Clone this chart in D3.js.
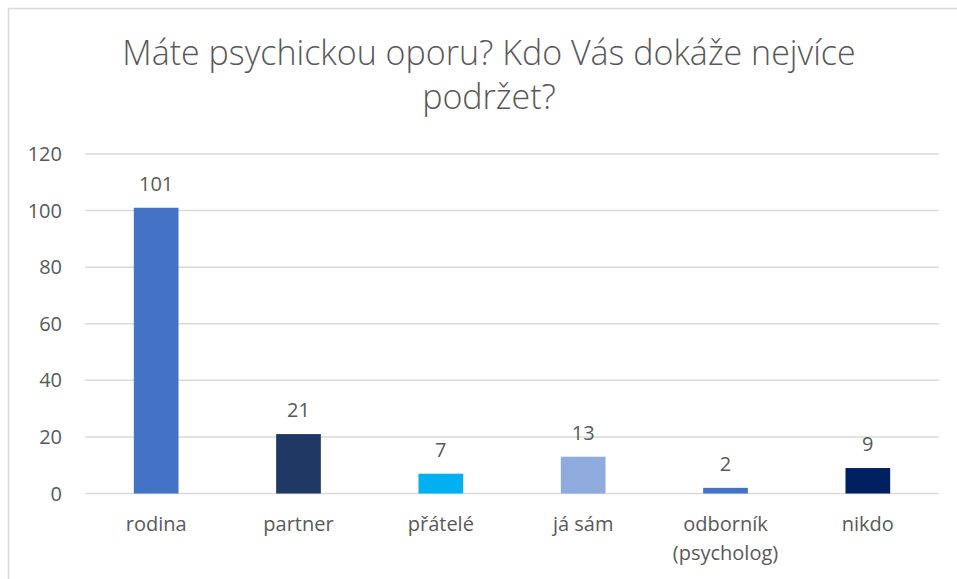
<!DOCTYPE html>
<html>
<head>
<meta charset="utf-8">
<script src="https://cdn.jsdelivr.net/npm/d3@7"></script>
<style>
  body { margin: 0; background: #fff; }
  text { font-family: "Open Sans", Lato, sans-serif; fill: #595959; }
</style>
</head>
<body>
<script>
'use strict';

var width = 957, height = 579;

var categories = ["rodina", "partner", "přátelé", "já sám", "odborník (psycholog)", "nikdo"];
var values = [101, 21, 7, 13, 2, 9];
var colors = ["#4472C4", "#203864", "#00B0F0", "#8FAADC", "#4472C4", "#002060"];
var yTicks = [0, 20, 40, 60, 80, 100, 120];
var titleLines = ["Máte psychickou oporu? Kdo Vás dokáže nejvíce", "podržet?"];

var svg = d3.select("body").append("svg")
  .attr("width", width)
  .attr("height", height);

// chart frame (runs off the right and bottom edge)
svg.append("rect")
  .attr("x", 8.5).attr("y", 8.5)
  .attr("width", 1200).attr("height", 1200)
  .attr("fill", "none")
  .attr("stroke", "#d9d9d9")
  .attr("stroke-width", 1.5);

var x = d3.scaleBand()
  .domain(categories)
  .range([85, 939])
  .paddingInner(0.686)
  .paddingOuter(0.343);

var y = d3.scaleLinear()
  .domain([0, 120])
  .range([493.5, 154]);

// gridlines
svg.append("g").selectAll("line")
  .data(yTicks)
  .enter().append("line")
  .attr("x1", 85).attr("x2", 939)
  .attr("y1", function(d) { return y(d); })
  .attr("y2", function(d) { return y(d); })
  .attr("stroke", "#d9d9d9")
  .attr("stroke-width", 1.5);

// y tick labels
svg.append("g").selectAll("text")
  .data(yTicks)
  .enter().append("text")
  .attr("x", 62)
  .attr("y", function(d) { return y(d); })
  .attr("dy", "0.35em")
  .attr("text-anchor", "end")
  .style("font-size", "20px")
  .text(function(d) { return d; });

// bars
svg.append("g").selectAll("rect")
  .data(values)
  .enter().append("rect")
  .attr("x", function(d, i) { return x(categories[i]); })
  .attr("width", x.bandwidth())
  .attr("y", function(d) { return y(d); })
  .attr("height", function(d) { return y(0) - y(d); })
  .attr("fill", function(d, i) { return colors[i]; });

// data labels
svg.append("g").selectAll("text")
  .data(values)
  .enter().append("text")
  .attr("x", function(d, i) { return x(categories[i]) + x.bandwidth() / 2; })
  .attr("y", function(d) { return y(d) - 17; })
  .attr("text-anchor", "middle")
  .style("font-size", "20px")
  .text(function(d) { return d; });

// category labels, wrapped like Excel does
var cat = svg.append("g").selectAll("text")
  .data(categories)
  .enter().append("text")
  .attr("x", function(d) { return x(d) + x.bandwidth() / 2; })
  .attr("y", 531)
  .attr("text-anchor", "middle")
  .style("font-size", "20px");
cat.each(function(d) {
  var words = d.split(" ");
  var lines = d.indexOf("(") >= 0 ? [words.slice(0, -1).join(" "), words[words.length - 1]] : [d];
  var t = d3.select(this);
  lines.forEach(function(l, k) {
    t.append("tspan")
      .attr("x", t.attr("x"))
      .attr("dy", k === 0 ? 0 : 29)
      .text(l);
  });
});

// title
svg.append("g").selectAll("text")
  .data(titleLines)
  .enter().append("text")
  .attr("x", 489)
  .attr("y", function(d, i) { return 65 + i * 44; })
  .attr("text-anchor", "middle")
  .style("font-size", "34px")
  .style("font-weight", 300)
  .text(function(d) { return d; });
</script>
</body>
</html>
